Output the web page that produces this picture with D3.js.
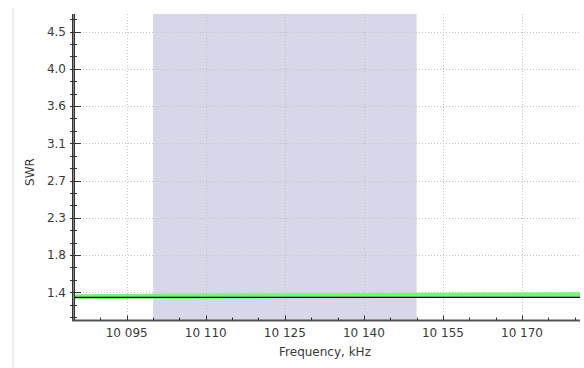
<!DOCTYPE html>
<html>
<head>
<meta charset="utf-8">
<script src="https://cdn.jsdelivr.net/npm/d3@7/dist/d3.min.js"></script>
<style>
  html, body { margin: 0; padding: 0; background: #ffffff; }
  svg { display: block; }
  text { font-family: "DejaVu Sans", Verdana, sans-serif; fill: #3a3a3a; }
</style>
</head>
<body>
<svg id="chart" width="584" height="368"></svg>
<script>
// Frequency sweep (kHz) and measured SWR
const freqKHz = [10085, 10100, 10115, 10130, 10145, 10160, 10181];
const swrValues = [1.318, 1.322, 1.326, 1.329, 1.333, 1.337, 1.342];

// Flat reference level drawn across the sweep
const refFreq = [10085, 10181];
const refSwr = [1.31, 1.31];

// Highlighted band (kHz)
const bandRange = [10100, 10150];

// Axis ticks
const xTickValues = [10095, 10110, 10125, 10140, 10155, 10170];
const yTickValues = [1.37, 1.813, 2.256, 2.699, 3.142, 3.585, 4.028, 4.471];

const xDomain = [10085, 10181];
const yDomain = [1.035, 4.68];

const svg = d3.select("#chart");
const plot = { left: 74, right: 580, top: 14, bottom: 320.5 };

const x = d3.scaleLinear().domain(xDomain).range([plot.left, plot.right]);
const y = d3.scaleLinear().domain(yDomain).range([plot.bottom, plot.top]);

// widget frame edge
svg.append("line")
  .attr("x1", 13).attr("x2", 13).attr("y1", 8).attr("y2", 368)
  .attr("stroke", "#ececec").attr("stroke-width", 2);

// highlighted band
svg.append("rect")
  .attr("x", x(bandRange[0])).attr("y", plot.top)
  .attr("width", x(bandRange[1]) - x(bandRange[0]))
  .attr("height", plot.bottom - plot.top)
  .attr("fill", "#d6d7e9");

// grid
const grid = svg.append("g").attr("stroke", "#c4c4c4").attr("stroke-dasharray", "1,2").attr("stroke-width", 1);
grid.selectAll(".gx").data(xTickValues).join("line")
  .attr("x1", d => Math.round(x(d)) + 0.5).attr("x2", d => Math.round(x(d)) + 0.5)
  .attr("y1", plot.top).attr("y2", plot.bottom);
grid.selectAll(".gy").data(yTickValues).join("line")
  .attr("x1", plot.left).attr("x2", plot.right - 1)
  .attr("y1", d => Math.round(y(d)) + 0.5).attr("y2", d => Math.round(y(d)) + 0.5);

// SWR curve
const line = d3.line().x((d, i) => x(freqKHz[i])).y(d => y(d));
svg.append("path")
  .datum(swrValues)
  .attr("d", line)
  .attr("fill", "none")
  .attr("stroke", "#7df07d")
  .attr("stroke-width", 5);

// reference level
const refLine = d3.line().x((d, i) => x(refFreq[i])).y(d => y(d));
svg.append("path")
  .datum(refSwr)
  .attr("d", refLine)
  .attr("fill", "none")
  .attr("stroke", "#111")
  .attr("stroke-width", 1.4);

// minor ticks
const yStep = yTickValues[1] - yTickValues[0];
const yMinor = [];
for (const v of yTickValues) {
  [-2, -1, 1, 2].forEach(k => yMinor.push(v + k * yStep / 3));
}
const yMinorTicks = Array.from(new Set(yMinor.map(v => +v.toFixed(4))))
  .filter(v => v > yDomain[0] && v < yDomain[1] && !yTickValues.some(t => Math.abs(t - v) < 1e-3));

const xMinorTicks = d3.range(xDomain[0], xDomain[1] + 0.1, 5).filter(v => !xTickValues.includes(v));

// Y axis
const yAxis = svg.append("g");
yAxis.append("rect")
  .attr("x", plot.left - 2).attr("y", plot.top).attr("width", 3).attr("height", plot.bottom - plot.top)
  .attr("fill", "#8a8a8a");
yAxis.append("line").attr("x1", plot.left - 1.5).attr("x2", plot.left - 1.5)
  .attr("y1", plot.top).attr("y2", plot.bottom).attr("stroke", "#333");
yAxis.append("line").attr("x1", plot.left + 0.5).attr("x2", plot.left + 0.5)
  .attr("y1", plot.top).attr("y2", plot.bottom).attr("stroke", "#333");
yAxis.selectAll(".ymin").data(yMinorTicks).join("line")
  .attr("x1", plot.left - 4).attr("x2", plot.left + 3)
  .attr("y1", d => Math.round(y(d)) + 0.5).attr("y2", d => Math.round(y(d)) + 0.5)
  .attr("stroke", "#333");
yAxis.selectAll(".ymaj").data(yTickValues).join("line")
  .attr("x1", plot.left - 4).attr("x2", plot.left + 7)
  .attr("y1", d => Math.round(y(d)) + 0.5).attr("y2", d => Math.round(y(d)) + 0.5)
  .attr("stroke", "#333");
yAxis.selectAll(".ylab").data(yTickValues).join("text")
  .attr("x", 66).attr("y", d => y(d)).attr("dy", "0.36em")
  .attr("text-anchor", "end").attr("font-size", 12)
  .text(d => d3.format(".1f")(d));

// X axis
const xAxis = svg.append("g");
xAxis.append("line")
  .attr("x1", plot.left - 2).attr("x2", plot.right)
  .attr("y1", plot.bottom).attr("y2", plot.bottom)
  .attr("stroke", "#555").attr("stroke-width", 2);
xAxis.selectAll(".xmin").data(xMinorTicks).join("line")
  .attr("x1", d => Math.round(x(d)) + 0.5).attr("x2", d => Math.round(x(d)) + 0.5)
  .attr("y1", plot.bottom).attr("y2", plot.bottom - 3)
  .attr("stroke", "#333");
xAxis.selectAll(".xmaj").data(xTickValues).join("line")
  .attr("x1", d => Math.round(x(d)) + 0.5).attr("x2", d => Math.round(x(d)) + 0.5)
  .attr("y1", plot.bottom).attr("y2", plot.bottom - 5)
  .attr("stroke", "#333");
const fmtFreq = d => { const s = String(d); return s.slice(0, s.length - 3) + " " + s.slice(-3); };
xAxis.selectAll(".xlab").data(xTickValues).join("text")
  .attr("x", d => x(d)).attr("y", 333).attr("dy", "0.36em")
  .attr("text-anchor", "middle").attr("font-size", 12)
  .text(fmtFreq);

// axis titles
svg.append("text")
  .attr("x", (plot.left + plot.right) / 2 - 2).attr("y", 352).attr("dy", "0.36em")
  .attr("text-anchor", "middle").attr("font-size", 12)
  .text("Frequency, kHz");
svg.append("text")
  .attr("transform", "translate(30,172) rotate(-90)")
  .attr("dy", "0.36em")
  .attr("text-anchor", "middle").attr("font-size", 12)
  .text("SWR");
</script>
</body>
</html>
